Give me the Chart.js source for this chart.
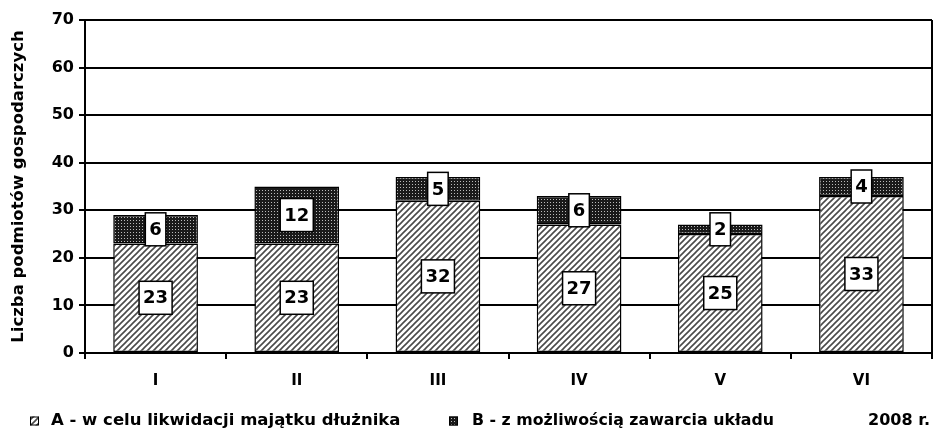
<!DOCTYPE html>
<html lang="pl">
<head>
    <meta charset="UTF-8">
    <title>Liczba podmiotów gospodarczych 2008</title>
    <script src="https://cdn.jsdelivr.net/npm/chart.js"></script>
    <style>
        html, body {
            margin: 0;
            padding: 0;
            background: #fff;
        }
        #wrap {
            width: 941px;
            height: 433px;
            position: relative;
        }
    </style>
</head>
<body>
    <div id="wrap">
        <canvas id="chart"></canvas>
    </div>

    <script>
        // Dane
        const months = ['I', 'II', 'III', 'IV', 'V', 'VI'];
        const seriesA = [23, 23, 32, 27, 25, 33];
        const seriesB = [6, 12, 5, 6, 2, 4];
        const seriesLabels = ['A - w celu likwidacji majątku dłużnika', 'B - z możliwością zawarcia układu'];
        const yearLabel = '2008 r.';
        const yTitle = 'Liczba podmiotów gospodarczych';

        // Wzory wypełnienia
        function hatchPattern() {
            const c = document.createElement('canvas');
            c.width = 6; c.height = 6;
            const g = c.getContext('2d');
            g.fillStyle = '#fff';
            g.fillRect(0, 0, 6, 6);
            g.strokeStyle = '#4a4a4a';
            g.lineWidth = 1.6;
            g.beginPath();
            g.moveTo(-1, 7); g.lineTo(7, -1);
            g.moveTo(-4, 4); g.lineTo(4, -4);
            g.moveTo(2, 10); g.lineTo(10, 2);
            g.stroke();
            return g.createPattern(c, 'repeat');
        }

        function dotPattern() {
            const c = document.createElement('canvas');
            c.width = 3; c.height = 3;
            const g = c.getContext('2d');
            g.fillStyle = '#1a1a1a';
            g.fillRect(0, 0, 3, 3);
            g.fillStyle = '#bbb';
            g.fillRect(1, 1, 1, 1);
            return g.createPattern(c, 'repeat');
        }

        const patA = hatchPattern();
        const patB = dotPattern();

        // Etykiety wartości w białych ramkach
        const boxLabels = {
            id: 'boxLabels',
            afterDatasetsDraw(chart) {
                const ctx = chart.ctx;
                ctx.save();
                ctx.font = 'bold 18px "DejaVu Sans"';
                ctx.textAlign = 'center';
                ctx.textBaseline = 'middle';
                chart.data.datasets.forEach((ds, i) => {
                    chart.getDatasetMeta(i).data.forEach((el, j) => {
                        const txt = String(ds.data[j]);
                        const cy = (el.y + el.base) / 2;
                        const w = ctx.measureText(txt).width + 8;
                        const h = 33;
                        ctx.fillStyle = '#fff';
                        ctx.fillRect(el.x - w / 2, cy - h / 2, w, h);
                        ctx.strokeStyle = '#000';
                        ctx.lineWidth = 1.5;
                        ctx.strokeRect(el.x - w / 2, cy - h / 2, w, h);
                        ctx.fillStyle = '#000';
                        ctx.fillText(txt, el.x, cy + 1);
                    });
                });
                ctx.restore();
            }
        };

        // Ramka prawa + legenda na dole
        const extras = {
            id: 'extras',
            afterDraw(chart) {
                const ctx = chart.ctx;
                const a = chart.chartArea;
                ctx.save();
                ctx.strokeStyle = '#000';
                ctx.lineWidth = 2;
                ctx.beginPath();
                ctx.moveTo(a.right, a.top);
                ctx.lineTo(a.right, a.bottom);
                ctx.stroke();

                const y = 421;
                const items = [
                    { x: 30, tx: 51, w: 351, pat: patA, text: seriesLabels[0] },
                    { x: 449, tx: 472, w: 302, pat: patB, text: seriesLabels[1] }
                ];
                ctx.font = 'bold 16.5px "DejaVu Sans"';
                ctx.textBaseline = 'middle';
                ctx.textAlign = 'left';
                items.forEach(it => {
                    ctx.fillStyle = it.pat;
                    ctx.fillRect(it.x, y - 4.5, 9, 9);
                    ctx.lineWidth = 1;
                    ctx.strokeStyle = '#000';
                    ctx.strokeRect(it.x + 0.5, y - 4, 8, 8);
                    ctx.fillStyle = '#000';
                    ctx.fillText(it.text, it.tx, y, it.w);
                });
                ctx.fillText(yearLabel, 868, y, 62);
                ctx.restore();
            }
        };

        new Chart(document.getElementById('chart'), {
            type: 'bar',
            data: {
                labels: months,
                datasets: [
                    {
                        label: seriesLabels[0],
                        data: seriesA,
                        backgroundColor: patA,
                        borderColor: '#000',
                        borderWidth: 1.5,
                        borderSkipped: false,
                        barPercentage: 0.6,
                        categoryPercentage: 1
                    },
                    {
                        label: seriesLabels[1],
                        data: seriesB,
                        backgroundColor: patB,
                        borderColor: '#000',
                        borderWidth: 1.5,
                        borderSkipped: false,
                        barPercentage: 0.6,
                        categoryPercentage: 1
                    }
                ]
            },
            options: {
                responsive: true,
                maintainAspectRatio: false,
                animation: false,
                layout: { padding: { top: 20, right: 9, left: 0, bottom: 0 } },
                plugins: {
                    legend: { display: false },
                    tooltip: { enabled: false }
                },
                scales: {
                    x: {
                        stacked: true,
                        afterFit(s) { s.height = 80; },
                        grid: {
                            offset: true,
                            drawOnChartArea: false,
                            color: '#000',
                            lineWidth: 2,
                            tickLength: 6
                        },
                        border: { color: '#000', width: 2 },
                        ticks: {
                            color: '#000',
                            padding: 13,
                            font: { family: 'DejaVu Sans', weight: 'bold', size: 15 }
                        }
                    },
                    y: {
                        stacked: true,
                        min: 0,
                        max: 70,
                        afterFit(s) { s.width = 85; },
                        grid: {
                            color: '#000',
                            lineWidth: 2,
                            tickLength: 6
                        },
                        border: { color: '#000', width: 2 },
                        ticks: {
                            stepSize: 10,
                            color: '#000',
                            padding: 5,
                            font: { family: 'DejaVu Sans', weight: 'bold', size: 16 }
                        },
                        title: {
                            display: true,
                            text: yTitle,
                            color: '#000',
                            padding: { top: 9, bottom: 4 },
                            font: { family: 'DejaVu Sans', weight: 'bold', size: 16.5 }
                        }
                    }
                }
            },
            plugins: [boxLabels, extras]
        });
    </script>
</body>
</html>
